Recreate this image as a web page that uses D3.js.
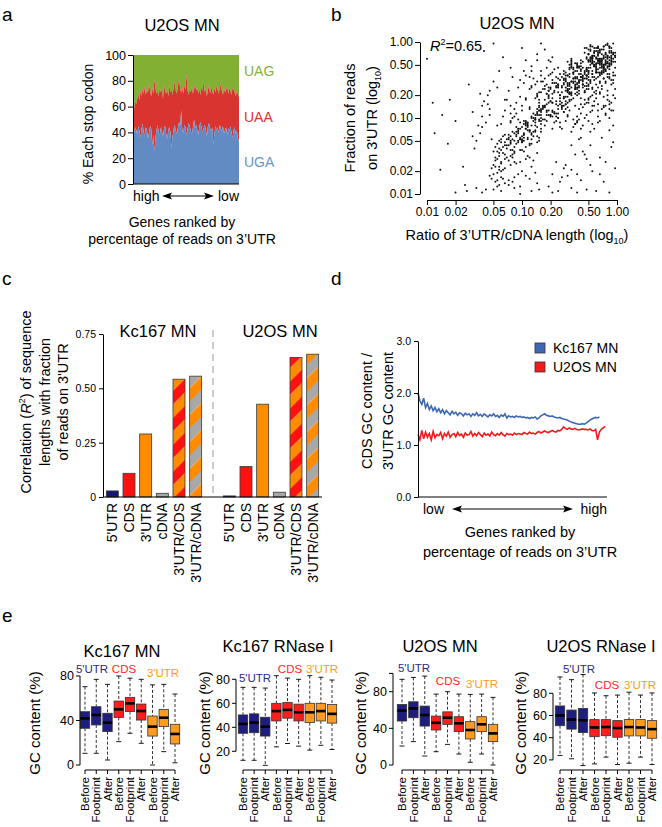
<!DOCTYPE html>
<html><head><meta charset="utf-8">
<script src="https://cdn.jsdelivr.net/npm/d3@7"></script>
<style>body{margin:0;background:#fff}svg{display:block}</style>
</head><body><svg id="fig" width="662" height="827"></svg>
<script>
// ---------------- DATA ----------------
// Panel a: stacked stop codon percentages along gene rank (UGA bottom, UGA+UAA boundary)
const ugaPct = [32,40,44,42,38,45,41,36,43,47,40,38,44,42,35,40,45,43,30,38,
 25,36,42,46,40,38,44,41,37,43,45,39,35,42,44,40,28,37,43,46,
 41,39,44,48,45,57,42,40,46,44,38,43,47,45,41,39,44,50,43,46,
 42,38,45,48,44,40,43,46,42,37,45,47,43,41,44,30,39,45,42,44,
 40,46,43,41,45,39,42,44,38,43,41,45,40,36,42,44,39,41,35,33];
const ugaPlusUaaPct = [60,58,64,62,66,70,65,72,68,74,70,76,69,73,71,78,72,68,75,70,
 81,74,70,72,68,75,71,73,66,77,72,70,74,68,76,71,73,69,75,79,
 72,70,76,82,74,71,75,70,77,73,85,72,69,74,71,76,70,73,78,72,
 75,70,74,69,76,72,80,71,74,68,73,77,70,75,72,69,74,71,76,73,
 70,74,78,72,69,75,71,73,76,70,74,72,69,75,73,71,68,72,70,67];
const codonNames = ["UAG","UAA","UGA"];
const stopTicks = [0,20,40,60,80,100];

// Panel b: scatter points, each code = XXYY, indices on a 0.02 log10 grid from 0.01 (00) to 1.00 (100)
const scatterCodes = [
8791,9486,9093,8884,9697,9189,8580,9892,9385,8996,9788,8683,9590,9281,8894,9987,8489,9195,9682,8791,
9088,9384,8592,9796,8986,9490,8381,9893,9187,8697,9583,8885,9289,9991,8478,9686,9094,8790,9382,8893,
9685,9097,8587,9492,9880,8984,9295,8689,9791,9383,8877,9586,9088,8396,9990,9485,8781,9194,9688,8592,
9082,9397,8788,9591,8983,9889,9284,8695,9487,9179,8490,9786,9391,8887,9696,8581,9993,9280,8994,9589,
8685,9092,9488,8779,9684,9395,8891,9180,9793,8482,9587,8990,9385,9899,8688,9283,9096,8787,9481,9694,
8393,9189,9787,8884,9598,9286,8592,9091,9983,8789,9382,9690,8896,9486,8980,9193,8583,9887,9288,8698,
9089,9584,8786,9397,9679,8891,9185,9493,8482,9790,9288,8985,9599,8694,9383,9087,8789,9892,9186,9481,
8588,9292,8981,9697,9384,8790,9086,9591,8893,9785,8687,9183,9498,8496,9389,9080,9794,8885,9287,8982,
9684,9390,8797,9188,9586,8483,9991,8989,9285,9693,8690,9482,9096,8884,9381,9789,8595,9187,9492,8786,
7375,8179,7782,8571,7468,7986,8274,7670,8481,7877,7272,8084,7579,8368,7973,7685,8177,7471,8786,7780,
8272,7583,8066,7869,8478,7376,7981,8675,7773,8283,7467,8070,7688,8476,7874,7279,8182,7571,8569,7985,
7674,8380,7870,8177,7566,8272,7783,8579,7468,8074,7686,8371,7977,7275,8188,7869,8476,7582,8073,7779,
8367,7684,8278,7473,8581,7970,7687,8175,7776,8469,7380,8083,7972,8674,7566,8287,7881,8068,7478,8572,
7774,8181,7469,8376,7886,7572,8079,8471,7683,8270,7967,8588,7378,7776,8184,8473,7969,7585,8277,7871,
8664,8867,8769,8972,9070,9174,9271,9376,9473,9568,9677,9772,9875,9969,8966,9269,9565,9873,8770,9167,
7872,8074,8276,8478,8673,8875,9077,9279,9474,9676,9878,7976,8177,8379,8575,8777,8980,9178,9380,9577,
8071,8275,8577,8779,8976,9173,9376,9579,9775,9978,
6271,6468,6675,6877,7075,7273,6579,6782,7079,7276,7478,7674,6372,6570,6873,7171,7374,7577,7780,7983,
6169,6366,6673,6976,7177,7370,7573,7876,8075,8272,6478,6680,6983,7281,7487,7689,7984,8186,6276,6074,
6773,6970,7167,7464,7662,7965,8163,8367,7569,7866,
6258,5853,6561,6967,5955,7263,6452,6870,5749,7158,6366,6056,7472,6754,5962,7065,6149,6660,7368,5856,
6463,7160,6551,6972,6257,7567,5854,6859,7364,6048,6666,7061,6355,5960,7469,6753,7157,6465,6950,5763,
7566,6258,6871,6054,7263,6561,5952,7059,6768,7348,6157,6464,7555,5865,6956,6262,7170,6651,6067,7460,
6359,5750,6972,7254,6663,6157,7468,6552,7065,5958,6861,7359,6249,6767,7156,6055,7562,6470,6953,5864,
6660,7258,6354,7666,6851,5957,7063,6569,7452,6158,7361,6655,5948,6971,7264,6460,6156,7667,6853,7158,
7744,7846,8049,8245,8452,7641,7947,8143,8350,8548,8654,8858,9051,9256,8746,9148,9453,9650,9855,9659,
6245,6552,6848,7143,7457,7749,8056,8362,6643,6958,7254,7561,7846,8153,6352,6747,7044,7359,7665,7951,
8257,8560,6455,6950,7356,7763,8159,8562,6041,6348,6654,7047,7451,7858,
5263,5571,5866,6174,6468,6269,5967,5676,6078,6383,6587,6081,5772,5469,5181,4975,5278,5584,5888,
4447,4651,4849,5055,4458,4262,4753,5058,4155,4550,3946,4448,
8563,8765,8968,9166,9364,9562,9760,9963,8861,9059,9357,9661,9865,8460,8758,9055,9458,9755,
5038,5245,5433,5551,5742,4947,5336,5648,5844,6052,5140,5539,5749,5935,4843,5246,5457,5342,5650,5955,
5034,5441,5752,6046,4936,5148,5545,5838,5347,5044,5653,5937,5243,5550,4841,5139,5456,5745,6050,5834,
5248,5536,5949,5641,5346,5135,5747,6043,5442,5852,
4236,3825,4631,5139,3622,4434,4929,5344,4027,4741,5533,3818,4339,5036,4524,3929,5247,4132,4835,3723,
4628,5442,4230,5638,4433,3920,4937,5231,4126,4738,3624,5345,4529,5035,4322,3827,5540,4733,4031,5137,
4425,3921,4834,5243,4635,3728,5029,4438,5741,4123,4936,5432,3830,4627,5146,4332,3519,4840,5337,4224,
3417,4720,5128,3915,4526,5622,4016,3618,5325,4419,4921,3714,5827,4621,4117,5424,3816,5034,4429,5223,
3312,4010,3513,4611,3709,5015,4309,5518,3911,4813,3410,5212,4508,3608,5714,4107,3806,4905,5410,3103,
3631,3835,4038,4232,4435,4640,4842,3733,3936,4139,4336,4541,4744,3528,3934,4337,4739,4134,4536,4943,
89,440,852,1262,1548,1918,2272,2530,2745,3094,360,716,1133,1501,2006,2454,2866,3259,3574,3881,
3599,4090,4483,4870,5096,5288,5581,5477,5892,6099,6295,6488,6690,4577,4162,3770,3356,3265,2951,5874,
2102,2604,2901,3503,3902,4604,4900,5502,5903,6601,6902,7604,7901,8403,8902,9601,3705,4306,5807,6405,
7111,7616,8109,8619,9113,9421,9731,9642,9124,8632,8137,7319,7913,8326,8715,9308,9834,9917,9358,8963,
6613,6821,7008,7217,7412,7632,7826,8036,8228,8423,8641,8843,9047,9237,9452,9656,9845,8755,8359,7948,
2840,3147,2635,3352,2944,3061,3368,2958,3436,2438,5262,5570,4964,4656,5173,4368,4760,4051,3745,4453];
const logTicks = [0.01,0.02,0.05,0.10,0.20,0.50,1.00];
const r2Text = "0.65";

// Panel c: R^2 of sequence lengths with fraction of reads on 3'UTR
const seqFeatures = ["5'UTR","CDS","3'UTR","cDNA","3'UTR/CDS","3'UTR/cDNA"];
const kcR2 = [0.028,0.109,0.29,0.017,0.542,0.556];
const u2R2 = [0.005,0.14,0.427,0.022,0.642,0.657];
const r2Ticks = [0,0.25,0.5,0.75];

// Panel d: CDS GC / 3'UTR GC along gene rank
const kcGcRatio = [2.0,1.85,1.78,1.9,1.72,1.8,1.68,1.75,1.66,1.72,1.64,1.7,1.62,1.68,1.6,1.66,1.62,1.58,1.65,1.6,
 1.63,1.57,1.62,1.6,1.56,1.61,1.58,1.6,1.55,1.6,1.57,1.62,1.56,1.59,1.55,1.6,1.57,1.54,1.58,1.56,
 1.6,1.55,1.57,1.53,1.58,1.55,1.6,1.52,1.56,1.54,1.55,1.53,1.56,1.54,1.55,1.53,1.54,1.52,1.53,1.51,
 1.53,1.52,1.54,1.5,1.52,1.56,1.58,1.6,1.57,1.56,1.55,1.56,1.54,1.53,1.52,1.53,1.51,1.5,1.49,1.48,
 1.46,1.44,1.43,1.42,1.41,1.4,1.4,1.41,1.4,1.42,1.45,1.48,1.5,1.52,1.53,1.52,1.54];
const u2GcRatio = [1.2,1.1,1.28,1.12,1.25,1.15,1.22,1.1,1.26,1.14,1.2,1.18,1.24,1.12,1.22,1.17,1.25,1.15,1.2,1.22,
 1.16,1.24,1.18,1.21,1.15,1.23,1.19,1.2,1.26,1.17,1.22,1.18,1.24,1.2,1.16,1.23,1.19,1.21,1.17,1.25,
 1.2,1.18,1.22,1.19,1.24,1.2,1.17,1.22,1.2,1.21,1.19,1.23,1.2,1.22,1.21,1.2,1.24,1.22,1.21,1.25,
 1.22,1.23,1.21,1.24,1.26,1.23,1.25,1.27,1.25,1.24,1.26,1.28,1.26,1.25,1.28,1.27,1.3,1.35,1.32,1.3,
 1.33,1.31,1.3,1.32,1.3,1.29,1.3,1.31,1.3,1.3,1.29,1.31,1.28,1.27,1.3,1.1,1.25,1.3,1.33,1.36];
const gcRatioTicks = [0,1,2,3];
const sampleNames = ["Kc167 MN","U2OS MN"];

// Panel e: GC content box stats [low whisker, Q1, median, Q3, high whisker]
const regionNames = ["5'UTR","CDS","3'UTR"];
const windowNames = ["Before","Footprint","After"];
const kcMnBoxes = [[10.5,33,41.9,47.9,70.4],[10.5,36,45,52.4,77],[4.5,30,38,46.5,72.5],
 [21,42.8,50,57.5,80],[28.5,48,55.4,60.8,78],[19.5,40.4,48.5,54.8,77],
 [0,26,34.5,44,72],[12,34.5,42.5,50,72.5],[2,18.9,27.9,36.6,63.8]];
const kcRnBoxes = [[12.5,35,42.8,50.3,73.3],[12.5,35.5,43.9,51.2,73.3],[8.3,32.7,40.5,48.4,72.7],
 [23.7,45.3,53.5,60,83],[26.5,47.6,54.5,60.7,81],[24.3,45.3,52.5,59.3,80],
 [21,43.9,52.5,60,83],[25,45.3,53.5,60,81.7],[21.5,43.5,51.2,59,79.4]];
const u2MnBoxes = [[20.7,48,59.3,66,93.5],[25.5,51.6,61.8,69,95.6],[9.8,42.5,54.5,64.3,97],
 [14.5,38.2,46,53.4,77.4],[22.5,44.3,51.6,58,80],[12,36.4,45.5,52.7,77.4],
 [3,28.4,38.2,47.3,77],[12,36.4,44.4,52.7,77.4],[0,25.5,34.5,44.4,73.8]];
const u2RnBoxes = [[24,50.8,60,68.6,94.7],[21,47.7,56.3,64.9,92.3],[14.9,44.6,55.7,66.4,96.9],
 [16.4,40.9,49.2,56.3,80.3],[22.5,41.8,49.6,56.3,77.8],[15.8,40.4,48.7,55.4,78.4],
 [17,41.6,49.6,56.3,81],[22.5,41.6,49.2,56.3,78.4],[15.8,39.5,47.7,55.4,80.3]];
const gcTicksA = [0,40,80];
const gcTicksB = [20,40,60,80];

// ---------------- DRAWING ----------------
const FF = '"Liberation Sans", Arial, Helvetica, sans-serif';
const svg = d3.select("#fig");
svg.append("rect").attr("width",662).attr("height",827).attr("fill","#fff");
const defs = svg.append("defs");

function T(g, x, y, s, o = {}) {
  const t = g.append("text").attr("x", x).attr("y", y).text(s)
    .attr("font-family", FF).attr("font-size", o.fs || 14)
    .attr("fill", o.fill || "#000").attr("text-anchor", o.anchor || "start");
  if (o.rot) t.attr("transform", `rotate(${o.rot},${x},${y})`);
  return t;
}
function styleAxis(g, fs) {
  g.attr("font-family", FF).attr("font-size", fs);
  g.selectAll("text").attr("fill", "#000");
  g.selectAll("line,path").attr("stroke", "#000").attr("stroke-width", 1);
}
function arrowLine(g, x1, x2, y) {
  g.append("line").attr("x1", x1 + 6).attr("x2", x2 - 6).attr("y1", y).attr("y2", y).attr("stroke", "#000").attr("stroke-width", 1.2);
  g.append("path").attr("d", `M${x1},${y}L${x1 + 10},${y - 3.5}L${x1 + 8},${y}L${x1 + 10},${y + 3.5}Z`).attr("fill", "#000");
  g.append("path").attr("d", `M${x2},${y}L${x2 - 10},${y - 3.5}L${x2 - 8},${y}L${x2 - 10},${y + 3.5}Z`).attr("fill", "#000");
}

// panel letters
[["a",2,21],["b",331,21],["c",2,285],["d",331,285],["e",2,622]].forEach(([s,x,y]) => T(svg, x, y, s, {fs: 19}));

// ===== Panel a =====
{
  const g = svg.append("g");
  const xa = d3.scaleLinear().domain([0, ugaPct.length - 1]).range([133, 239]);
  const ya = d3.scaleLinear().domain([0, 100]).range([184, 55]);
  const cGreen = "#82b032", cRed = "#d93430", cBlue = "#628ac3";
  g.append("path").datum(ugaPlusUaaPct).attr("fill", cGreen)
    .attr("d", d3.area().x((d, i) => xa(i)).y0(ya(100)).y1(d => ya(d)));
  g.append("path").datum(ugaPlusUaaPct).attr("fill", cRed)
    .attr("d", d3.area().x((d, i) => xa(i)).y0((d, i) => ya(ugaPct[i])).y1(d => ya(d)));
  g.append("path").datum(ugaPct).attr("fill", cBlue)
    .attr("d", d3.area().x((d, i) => xa(i)).y0(ya(0)).y1(d => ya(d)));
  const ax = g.append("g").attr("transform", "translate(133,0)")
    .call(d3.axisLeft(ya).tickValues(stopTicks).tickSize(5).tickSizeOuter(0).tickPadding(2));
  styleAxis(ax, 12.5);
  g.append("line").attr("x1", 133).attr("x2", 239).attr("y1", 184).attr("y2", 184).attr("stroke", "#000");
  T(g, 182, 31, "U2OS MN", {fs: 16.5, anchor: "middle"});
  T(g, 244, 76, codonNames[0], {fs: 14, fill: "#86b23c"});
  T(g, 244, 122, codonNames[1], {fs: 14, fill: "#d93430"});
  T(g, 244, 167, codonNames[2], {fs: 14, fill: "#6b93c9"});
  T(g, 93, 124, "% Each stop codon", {fs: 14, anchor: "middle", rot: -90});
  T(g, 133, 201, "high", {fs: 14});
  T(g, 239, 201, "low", {fs: 14, anchor: "end"});
  arrowLine(g, 162, 214, 196);
  T(g, 182, 227, "Genes ranked by", {fs: 14, anchor: "middle"});
  T(g, 182, 244, "percentage of reads on 3’UTR", {fs: 14, anchor: "middle"});
}

// ===== Panel b =====
{
  const g = svg.append("g");
  const xb = d3.scaleLog().domain([0.01, 1]).range([427, 617]);
  const yb = d3.scaleLog().domain([0.01, 1]).range([194, 42]);
  const pts = scatterCodes.map(c => [Math.pow(10, -2 + Math.floor(c / 100) / 50), Math.pow(10, -2 + (c % 100) / 50)]);
  g.append("g").selectAll("circle").data(pts).join("circle")
    .attr("cx", d => xb(d[0])).attr("cy", d => yb(d[1])).attr("r", 1.0).attr("fill", "#111");
  const fmt = d3.format(".2f");
  const ay = g.append("g").attr("transform", "translate(420,0)")
    .call(d3.axisLeft(yb).tickValues(logTicks).tickFormat(fmt).tickSize(5).tickSizeOuter(0).tickPadding(2));
  styleAxis(ay, 12);
  const axb = g.append("g").attr("transform", "translate(0,200)")
    .call(d3.axisBottom(xb).tickValues(logTicks).tickFormat(fmt).tickSize(5).tickSizeOuter(0).tickPadding(2));
  styleAxis(axb, 12);
  T(g, 517, 29, "U2OS MN", {fs: 16.5, anchor: "middle"});
  const r = T(g, 430, 51, "", {fs: 14.5});
  r.append("tspan").attr("font-style", "italic").text("R");
  r.append("tspan").attr("font-size", 9).attr("dy", -6).text("2");
  r.append("tspan").attr("dy", 6).text("=" + r2Text);
  const xl = T(g, 517, 240, "Ratio of 3’UTR/cDNA length (log", {fs: 14.5, anchor: "middle"});
  xl.append("tspan").attr("font-size", 9).attr("dy", 4).text("10");
  xl.append("tspan").attr("dy", -4).text(")");
  T(g, 355, 118, "Fraction of reads", {fs: 14.5, anchor: "middle", rot: -90});
  const yl = T(g, 377, 118, "on 3'UTR (log", {fs: 14.5, anchor: "middle", rot: -90});
  yl.append("tspan").attr("font-size", 9).attr("dy", 4).text("10");
  yl.append("tspan").attr("dy", -4).text(")");
}

// ===== Panel c =====
{
  const g = svg.append("g");
  function stripe(id, c1, c2) {
    const p = defs.append("pattern").attr("id", id).attr("patternUnits", "userSpaceOnUse")
      .attr("width", 19).attr("height", 19).attr("patternTransform", "rotate(45)");
    p.append("rect").attr("width", 9.5).attr("height", 19).attr("fill", c1);
    p.append("rect").attr("x", 9.5).attr("width", 9.5).attr("height", 19).attr("fill", c2);
  }
  stripe("stRedOr", "#ff1111", "#ff8c00");
  stripe("stGreyOr", "#a8a8a8", "#ff8c00");
  const fills = ["#15157a", "#ff1111", "#ff8c00", "#a8a8a8", "url(#stRedOr)", "url(#stGreyOr)"];
  const yc = d3.scaleLinear().domain([0, 0.75]).range([497, 334]);
  const groups = [{vals: kcR2, range: [104, 204], name: sampleNames[0], tx: 158},
                  {vals: u2R2, range: [221, 321], name: sampleNames[1], tx: 280}];
  groups.forEach(gr => {
    const xc = d3.scaleBand().domain(seqFeatures).range(gr.range).paddingInner(0.28).paddingOuter(0.14);
    g.append("g").selectAll("rect").data(seqFeatures).join("rect")
      .attr("x", d => xc(d)).attr("width", xc.bandwidth())
      .attr("y", (d, i) => yc(gr.vals[i])).attr("height", (d, i) => yc(0) - yc(gr.vals[i]))
      .attr("fill", (d, i) => fills[i]).attr("stroke", "#3a3a3a").attr("stroke-width", 0.8);
    seqFeatures.forEach(f => {
      T(g, xc(f) + xc.bandwidth() / 2 + 5, 503, f, {fs: 14, anchor: "end", rot: -90});
    });
    T(g, gr.tx, 337, gr.name, {fs: 16.5, anchor: "middle"});
  });
  g.append("line").attr("x1", 213).attr("x2", 213).attr("y1", 330).attr("y2", 497)
    .attr("stroke", "#999").attr("stroke-width", 1).attr("stroke-dasharray", "7,5");
  const ax = g.append("g").attr("transform", "translate(103,0)")
    .call(d3.axisLeft(yc).tickValues(r2Ticks).tickFormat(d => d === 0 ? "0" : d3.format(".2f")(d)).tickSize(4).tickSizeOuter(0).tickPadding(3));
  styleAxis(ax, 10.5);
  g.append("line").attr("x1", 103).attr("x2", 322).attr("y1", 497).attr("y2", 497).attr("stroke", "#000");
  const l1 = T(g, 31, 402, "Correlation (", {fs: 14.5, anchor: "middle", rot: -90});
  l1.append("tspan").attr("font-style", "italic").text("R");
  l1.append("tspan").attr("font-size", 9).attr("dy", -6).text("2");
  l1.append("tspan").attr("dy", 6).text(") of sequence");
  T(g, 50, 402, "lengths with fraction", {fs: 14.5, anchor: "middle", rot: -90});
  T(g, 68, 402, "of reads on 3'UTR", {fs: 14.5, anchor: "middle", rot: -90});
}

// ===== Panel d =====
{
  const g = svg.append("g");
  const xd = d3.scaleLinear().domain([0, 100]).range([418, 607]);
  const yd = d3.scaleLinear().domain([0, 3]).range([497, 341]);
  const cols = ["#3d68b2", "#f01c1c"];
  [kcGcRatio, u2GcRatio].forEach((arr, k) => {
    g.append("path").datum(arr).attr("fill", "none").attr("stroke", cols[k]).attr("stroke-width", 1.6)
      .attr("d", d3.line().x((d, i) => xd(i)).y(d => yd(d)));
  });
  const ax = g.append("g").attr("transform", "translate(418,0)")
    .call(d3.axisLeft(yd).tickValues(gcRatioTicks).tickSize(4).tickSizeOuter(0).tickPadding(3));
  styleAxis(ax, 10.5);
  g.append("line").attr("x1", 418).attr("x2", 607).attr("y1", 497).attr("y2", 497).attr("stroke", "#000");
  sampleNames.forEach((s, k) => {
    g.append("rect").attr("x", 535).attr("y", 343 + k * 19).attr("width", 10).attr("height", 10)
      .attr("fill", cols[k]).attr("stroke", "#333").attr("stroke-width", 0.8);
    T(g, 553, 353 + k * 19, s, {fs: 14});
  });
  T(g, 372, 411, "CDS GC content /", {fs: 14.5, anchor: "middle", rot: -90});
  T(g, 393, 411, "3'UTR GC content", {fs: 14.5, anchor: "middle", rot: -90});
  T(g, 423, 514, "low", {fs: 14});
  T(g, 607, 514, "high", {fs: 14, anchor: "end"});
  arrowLine(g, 452, 573, 509);
  T(g, 520, 537, "Genes ranked by", {fs: 14.5, anchor: "middle"});
  T(g, 520, 557, "percentage of reads on 3’UTR", {fs: 14.5, anchor: "middle"});
}

// ===== Panel e =====
{
  const regionCols = ["#1e1e80", "#ff1e1e", "#ff9a22"];
  const regionText = ["#2a2a8a", "#ff1e1e", "#ff9a22"];
  const subplots = [
    {title: "Kc167 MN", tx: 122, ty: 657, stats: kcMnBoxes, axX: 80, dom: [0, 80], rng: [765, 676], ticks: gcTicksA, axTop: 80, axBot: 0,
     xr: [85, 175], ylx: 40, lab: [[92, 673], [124, 673], [163, 677]]},
    {title: "Kc167 RNase I", tx: 278, ty: 652, stats: kcRnBoxes, axX: 236, dom: [40, 80], rng: [727.3, 679.3], ticks: gcTicksB, axTop: 80, axBot: 20,
     xr: [243, 332], ylx: 210, lab: [[255, 682], [290, 673], [322, 673]]},
    {title: "U2OS MN", tx: 440, ty: 652, stats: u2MnBoxes, axX: 393, dom: [0, 80], rng: [765, 691.7], ticks: gcTicksA, axTop: 100, axBot: 0,
     xr: [402, 493], ylx: 366, lab: [[414, 672], [448, 685], [482, 688]]},
    {title: "U2OS RNase I", tx: 601, ty: 652, stats: u2RnBoxes, axX: 553, dom: [40, 80], rng: [737.7, 693.3], ticks: gcTicksB, axTop: 80, axBot: 20,
     xr: [560, 652], ylx: 526, lab: [[579, 673], [607, 689], [640, 689]]}
  ];
  subplots.forEach(sp => {
    const g = svg.append("g");
    const y = d3.scaleLinear().domain(sp.dom).range(sp.rng);
    const keys = sp.stats.map((d, i) => i);
    const x = d3.scalePoint().domain(keys).range(sp.xr);
    const bw = 9.4;
    sp.stats.forEach((s, i) => {
      const cx = x(i), col = regionCols[Math.floor(i / 3)];
      g.append("line").attr("x1", cx).attr("x2", cx).attr("y1", y(s[4])).attr("y2", y(s[3]))
        .attr("stroke", "#000").attr("stroke-width", 0.8).attr("stroke-dasharray", "3,2");
      g.append("line").attr("x1", cx).attr("x2", cx).attr("y1", y(s[1])).attr("y2", y(s[0]))
        .attr("stroke", "#000").attr("stroke-width", 0.8).attr("stroke-dasharray", "3,2");
      [s[0], s[4]].forEach(v => g.append("line").attr("x1", cx - 2.5).attr("x2", cx + 2.5)
        .attr("y1", y(v)).attr("y2", y(v)).attr("stroke", "#000").attr("stroke-width", 0.9));
      g.append("rect").attr("x", cx - bw / 2).attr("width", bw).attr("y", y(s[3])).attr("height", y(s[1]) - y(s[3]))
        .attr("fill", col).attr("stroke", "#333").attr("stroke-width", 0.8);
      g.append("line").attr("x1", cx - bw / 2).attr("x2", cx + bw / 2).attr("y1", y(s[2])).attr("y2", y(s[2]))
        .attr("stroke", "#000").attr("stroke-width", 2.6);
      g.append("line").attr("x1", cx).attr("x2", cx).attr("y1", 770).attr("y2", 774).attr("stroke", "#000");
      T(g, cx + 4.2, 777, windowNames[i % 3], {fs: 11.5, anchor: "end", rot: -90});
    });
    g.append("line").attr("x1", sp.xr[0]).attr("x2", sp.xr[1]).attr("y1", 770).attr("y2", 770).attr("stroke", "#000");
    // y axis
    g.append("line").attr("x1", sp.axX).attr("x2", sp.axX).attr("y1", y(sp.axBot)).attr("y2", y(sp.axTop)).attr("stroke", "#000");
    const tv = sp.axTop > 80 ? sp.ticks.concat([sp.axTop]) : sp.ticks;
    tv.forEach(v => g.append("line").attr("x1", sp.axX - 4).attr("x2", sp.axX).attr("y1", y(v)).attr("y2", y(v)).attr("stroke", "#000"));
    sp.ticks.forEach(v => T(g, sp.axX - 6, y(v) + 4.3, String(v), {fs: 12.5, anchor: "end"}));
    T(g, sp.tx, sp.ty, sp.title, {fs: 16.5, anchor: "middle"});
    T(g, sp.ylx, 723, "GC content (%)", {fs: 15, anchor: "middle", rot: -90});
    regionNames.forEach((r, k) => T(g, sp.lab[k][0], sp.lab[k][1], r, {fs: 11.5, anchor: "middle", fill: regionText[k]}));
  });
}
</script></body></html>
